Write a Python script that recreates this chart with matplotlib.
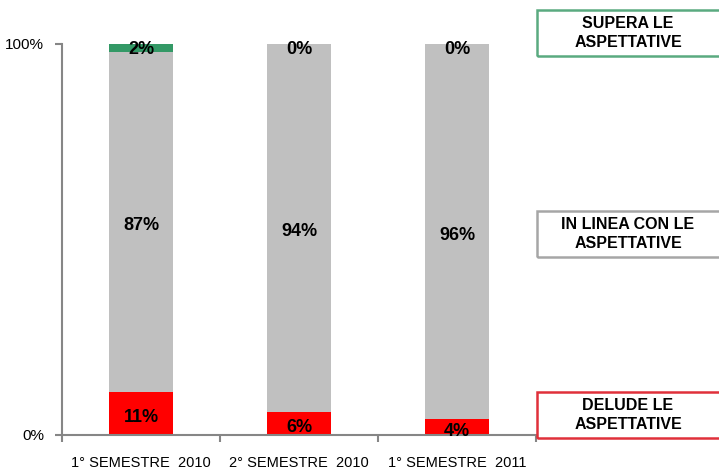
import matplotlib.pyplot as plt
from matplotlib.patches import Rectangle

plt.rcParams["font.family"] = ["Liberation Sans", "DejaVu Sans"]

# Data (percent)
categories = ["1° SEMESTRE  2010", "2° SEMESTRE  2010", "1° SEMESTRE  2011"]
delude = [11, 6, 4]
in_linea = [87, 94, 96]
supera = [2, 0, 0.4]
supera_labels = ["2%", "0%", "0%"]

RED = "#ff0000"
GRAY = "#c0c0c0"
GREEN = "#339966"
AXIS = "#868686"

fig = plt.figure(figsize=(7.19, 4.70), dpi=100)
ax = fig.add_axes([62 / 719, 35 / 470, 474 / 719, 391 / 470])

x = list(range(len(categories)))
width = 0.4
ax.bar(x, delude, width, color=RED, zorder=2)
ax.bar(x, in_linea, width, bottom=delude, color=GRAY, zorder=2)
bottoms = [d + g for d, g in zip(delude, in_linea)]
ax.bar(x, supera, width, bottom=bottoms, color=GREEN, zorder=2)

# Segment labels
for i in x:
    ax.text(i, delude[i] / 2 - 1, f"{delude[i]}%", ha="center", va="center",
            fontsize=13, fontweight="bold", zorder=3)
    ax.text(i, delude[i] + in_linea[i] / 2 - 1, f"{in_linea[i]}%", ha="center", va="center",
            fontsize=13, fontweight="bold", zorder=3)
    ax.text(i, 98.5, supera_labels[i], ha="center", va="center",
            fontsize=13, fontweight="bold", zorder=3)

ax.set_xlim(-0.5, 2.5)
ax.set_ylim(0, 100)
ax.set_yticks([0, 100])
ax.set_yticklabels(["0%", "100%"], fontsize=11)
ax.set_xticks([-0.5, 0.5, 1.5, 2.5])
ax.set_xticklabels([])
ax.set_xticks(x, minor=True)
ax.set_xticklabels(categories, minor=True, fontsize=10.5)
ax.tick_params(axis="x", which="minor", length=0, pad=15)
ax.tick_params(axis="x", which="major", length=5, color=AXIS, width=1.5)
ax.tick_params(axis="y", length=5, color=AXIS, width=1.5, pad=8)
for side in ["top", "right"]:
    ax.spines[side].set_visible(False)
for side in ["left", "bottom"]:
    ax.spines[side].set_color(AXIS)
    ax.spines[side].set_linewidth(1.5)

# Legend boxes on the right
boxes = [
    ("SUPERA LE\nASPETTATIVE", 10, 56, "#5aaa80"),
    ("IN LINEA CON LE\nASPETTATIVE", 211, 257, "#a6a6a6"),
    ("DELUDE LE\nASPETTATIVE", 392, 438, "#e0303a"),
]
for label, top, bot, col in boxes:
    x0 = 537 / 719
    y0 = 1 - bot / 470
    h = (bot - top) / 470
    fig.patches.append(Rectangle((x0, y0), 190 / 719, h, transform=fig.transFigure,
                                 fill=False, edgecolor=col, linewidth=1.8))
    fig.text(628 / 719, y0 + h / 2, label, ha="center", va="center",
             fontsize=11.5, fontweight="bold", linespacing=1.3)

fig.savefig("out.png", dpi=100)
